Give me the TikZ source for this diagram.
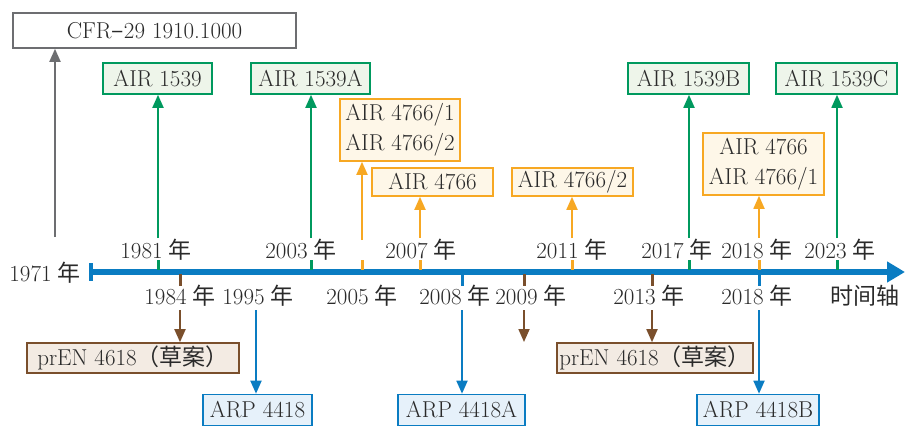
\documentclass[tikz,border=0pt]{standalone}
\usepackage{fontspec}
\usetikzlibrary{arrows.meta}
\newfontfamily\cjk{Noto Sans CJK SC}
\newcommand{\fs}{\fontsize{23}{30}\selectfont}
\newcommand{\nian}{\hspace{6pt}{\cjk 年}}
\definecolor{txt}{HTML}{2A2A2A}
\definecolor{grn}{HTML}{00995E}
\definecolor{grnf}{HTML}{EEF5EA}
\definecolor{org}{HTML}{F7A823}
\definecolor{orgf}{HTML}{FEF7E8}
\definecolor{brn}{HTML}{7A4F2C}
\definecolor{brnf}{HTML}{F3EBE3}
\definecolor{blu}{HTML}{0A7CC2}
\definecolor{bluf}{HTML}{E6F1FA}
\definecolor{gry}{HTML}{6D6E71}
\tikzset{
  box/.style={draw, line width=1.6pt, inner sep=0pt, text=txt, font=\fs, align=center},
  gbox/.style={box, draw=grn, fill=grnf},
  obox/.style={box, draw=org, fill=orgf},
  bbox/.style={box, draw=brn, fill=brnf},
  ubox/.style={box, draw=blu, fill=bluf},
  ybox/.style={box, draw=gry, fill=white},
  lbl/.style={text=txt, font=\fs, inner sep=0pt},
  conn/.style={line width=1.8pt, -{Triangle[width=11pt,length=13pt]}},
  tick/.style={line width=3pt},
}
\begin{document}
\begin{tikzpicture}[x=1pt,y=-1pt]
\useasboundingbox (0,0) rectangle (905,426);
% timeline
\coordinate (tls) at (91,272);
\coordinate (tle) at (905,272);
\draw[blu, line width=6pt, -{Triangle[width=20pt,length=18pt]}] (tls) -- (tle);
\draw[blu, line width=4pt] (91,263) -- (91,281);
% ticks above
\foreach \x/\c in {158/grn,311/grn,362/org,420/org,572/org,689/grn,759/org,837/grn}
  \draw[\c, tick] (\x,260) -- (\x,270);
% ticks below
\foreach \x/\c in {180/brn,462/blu,524/brn,652/brn,759/blu}
  \draw[\c, tick] (\x,274) -- (\x,286);
% boxes
\node[ybox, minimum width=283pt, minimum height=35pt] (cfr) at (154.5,30.5) {CFR{\cjk –}29 1910.1000};
\node[gbox, minimum width=109pt, minimum height=31pt] (a1539) at (157.5,78.5) {AIR 1539};
\node[gbox, minimum width=119pt, minimum height=31pt] (a1539a) at (310.5,78.5) {AIR 1539A};
\node[gbox, minimum width=121pt, minimum height=31pt] (a1539b) at (688.5,78.5) {AIR 1539B};
\node[gbox, minimum width=121pt, minimum height=31pt] (a1539c) at (836.5,78.5) {AIR 1539C};
\node[obox, minimum width=120pt, minimum height=62pt] (a4766x) at (400,130) {AIR 4766/1\\AIR 4766/2};
\node[obox, minimum width=121pt, minimum height=28pt] (a4766) at (432.5,182) {AIR 4766};
\node[obox, minimum width=121pt, minimum height=28pt] (a47662) at (572.5,182) {AIR 4766/2};
\node[obox, minimum width=121pt, minimum height=62pt] (a4766y) at (763.5,164) {AIR 4766\\AIR 4766/1};
\node[bbox, minimum width=212pt, minimum height=30pt] (pren1) at (133,358) {prEN 4618{\cjk （草案）}};
\node[bbox, minimum width=196pt, minimum height=30pt] (pren2) at (655,358) {prEN 4618{\cjk （草案）}};
\node[ubox, minimum width=109pt, minimum height=31pt] (arp) at (257.5,410) {ARP 4418};
\node[ubox, minimum width=127pt, minimum height=31pt] (arpa) at (461.5,410) {ARP 4418A};
\node[ubox, minimum width=122pt, minimum height=31pt] (arpb) at (758,410) {ARP 4418B};
% labels
\node[lbl] (l1971) at (45,273) {1971\nian};
\node[lbl] (l1981) at (156,250) {1981\nian};
\node[lbl] (l2003) at (301,250) {2003\nian};
\node[lbl] (l2007) at (421,250) {2007\nian};
\node[lbl] (l2011) at (572,250) {2011\nian};
\node[lbl] (l2017) at (677,250) {2017\nian};
\node[lbl] (l2018a) at (757,250) {2018\nian};
\node[lbl] (l2023) at (840,250) {2023\nian};
\node[lbl] (l1984) at (180,296) {1984\nian};
\node[lbl] (l1995) at (258,296) {1995\nian};
\node[lbl] (l2005) at (362,296) {2005\nian};
\node[lbl] (l2008) at (455,296) {2008\nian};
\node[lbl] (l2009) at (531,296) {2009\nian};
\node[lbl] (l2013) at (649,296) {2013\nian};
\node[lbl] (l2018b) at (757,296) {2018\nian};
\node[lbl] (laxis) at (865,296) {\cjk 时间轴};
% connector start points
\coordinate (s1971) at (55,237);
\coordinate (s1981) at (158,238);
\coordinate (s2003) at (311,238);
\coordinate (s2005) at (362,240);
\coordinate (s2007) at (420,238);
\coordinate (s2011) at (572,238);
\coordinate (s2017) at (689,238);
\coordinate (s2018a) at (759,238);
\coordinate (s2023) at (837,238);
\coordinate (s1984) at (180,310);
\coordinate (s1995) at (256,310);
\coordinate (s2008) at (462,310);
\coordinate (s2009) at (524,310);
\coordinate (e2009) at (524,342);
\coordinate (s2013) at (652,310);
\coordinate (s2018b) at (759,310);
% connectors
\draw[conn, gry] (s1971) -- (s1971 |- cfr.south);
\draw[conn, grn] (s1981) -- (s1981 |- a1539.south);
\draw[conn, grn] (s2003) -- (s2003 |- a1539a.south);
\draw[conn, grn] (s2017) -- (s2017 |- a1539b.south);
\draw[conn, grn] (s2023) -- (s2023 |- a1539c.south);
\draw[conn, org] (s2005) -- (s2005 |- a4766x.south);
\draw[conn, org] (s2007) -- (s2007 |- a4766.south);
\draw[conn, org] (s2011) -- (s2011 |- a47662.south);
\draw[conn, org] (s2018a) -- (s2018a |- a4766y.south);
\draw[conn, brn] (s1984) -- (s1984 |- pren1.north);
\draw[conn, brn] (s2009) -- (e2009);
\draw[conn, brn] (s2013) -- (s2013 |- pren2.north);
\draw[conn, blu] (s1995) -- (s1995 |- arp.north);
\draw[conn, blu] (s2008) -- (s2008 |- arpa.north);
\draw[conn, blu] (s2018b) -- (s2018b |- arpb.north);
\end{tikzpicture}
\end{document}
